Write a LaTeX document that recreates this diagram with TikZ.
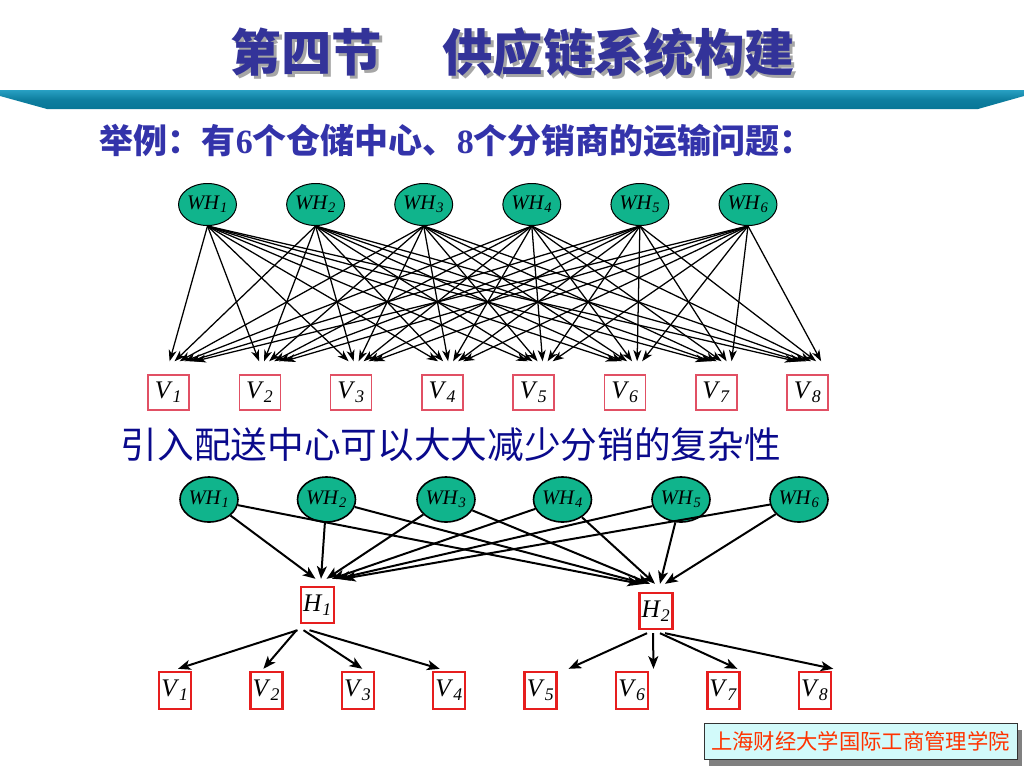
\documentclass[tikz,border=0pt]{standalone}
\usepackage{fontspec}
\setmainfont{Liberation Serif}
\newfontfamily\cjk{Noto Sans CJK SC}
\usetikzlibrary{arrows.meta,calc,shapes.geometric,shadows}

\definecolor{titleblue}{RGB}{51,51,153}
\definecolor{subblue}{RGB}{51,51,170}
\definecolor{headblue}{RGB}{10,10,140}
\definecolor{barlight}{RGB}{40,160,195}
\definecolor{bardark}{RGB}{8,118,150}
\definecolor{whgreen}{RGB}{16,180,140}
\definecolor{vpink}{RGB}{225,80,100}
\definecolor{vred}{RGB}{230,30,30}
\definecolor{footfill}{RGB}{210,250,250}
\definecolor{footred}{RGB}{255,51,0}

\newcommand{\lbl}[2]{\textit{#1}\textsubscript{\textit{#2}}}

\tikzset{every picture/.style={line width=0.75pt}}
\tikzset{
  whtop/.style={ellipse, draw=black, fill=whgreen, minimum width=39.75pt, minimum height=31.5pt, inner sep=0pt, font=\fontsize{15.5}{15.5}\selectfont},
  whbot/.style={ellipse, draw=black, line width=1.2pt, fill=whgreen, minimum width=43.5pt, minimum height=33.75pt, inner sep=0pt, font=\fontsize{15.5}{15.5}\selectfont},
  vtop/.style={draw=vpink, line width=1.1pt, minimum width=30.75pt, minimum height=26.25pt, inner sep=0pt, font=\fontsize{19}{19}\selectfont},
  vbot/.style={draw=vred, line width=1.8pt, minimum width=24pt, minimum height=27.75pt, inner sep=0pt, font=\fontsize{19}{19}\selectfont},
  hbox/.style={draw=vred, line width=1.8pt, minimum width=24.75pt, minimum height=27pt, inner sep=0pt, font=\fontsize{19}{19}\selectfont},
  toparr/.style={-{Stealth[length=8.5pt,width=6pt,inset=2.5pt]}, line width=0.95pt},
  botarr/.style={-{Stealth[length=9.5pt,width=7.5pt,inset=2.5pt]}, line width=1.5pt}
}

\begin{document}
\begin{tikzpicture}[x=0.75pt,y=0.75pt,yscale=-1,xscale=1]
    \useasboundingbox (0,0) rectangle (1024,768);
    \fill[white] (0,0) rectangle (1024,768);

    %Title
    \node[font=\cjk\bfseries\fontsize{37.8}{37.8}\selectfont, text=gray!70] (tshadow) at (516,55) {第四节\hspace{1.2em}供应链系统构建};
    \node[font=\cjk\bfseries\fontsize{37.8}{37.8}\selectfont, text=titleblue] (title) at (513,52) {第四节\hspace{1.2em}供应链系统构建};
    %Bar
    \shade[top color=barlight, bottom color=bardark, middle color=bardark!80!barlight] (0,90) -- (1024,90) -- (1024,96) -- (978,109) -- (47,109) -- (0,96) -- cycle;

    % Text Node
    \node[anchor=west, font=\cjk\bfseries\fontsize{25.5}{25.5}\selectfont, text=subblue] (sub) at (95,141) {举例：有\textrm{\bfseries 6}个仓储中心、\textrm{\bfseries 8}个分销商的运输问题：};

    %Top network
    \foreach \i in {1,...,6}
      \node[whtop] (wa\i) at ({207.5+108.1*(\i-1)},204.5) {\lbl{WH}{\i}};
    \foreach \j in {1,...,8}
      \node[vtop] (va\j) at ({168.5+91.3*(\j-1)},392.5) {\lbl{V}{\j}};
    \foreach \i in {1,...,6}
      \foreach \j in {1,...,8}
        \draw[toparr] (wa\i.south) -- ($(va\j.north)+({(\i-3.5)*5+1+(8-\j)*1.8},-13)$);

    % Text Node
    \node[anchor=west, font=\cjk\fontsize{27.5}{27.5}\selectfont, text=headblue] (head) at (116,445) {引入配送中心可以大大减少分销的复杂性};

    %Bottom network
    \foreach \i/\x in {1/209,2/326.5,3/446,4/562.5,5/681,6/799}
      \node[whbot] (wb\i) at (\x,499.5) {\lbl{WH}{\i}};
    \node[hbox] (h1) at (317.5,605) {\lbl{H}{1}};
    \node[hbox] (h2) at (656,611) {\lbl{H}{2}};
    \foreach \j in {1,...,8}
      \node[vbot] (vb\j) at ({175+91.4*(\j-1)},690.5) {\lbl{V}{\j}};
    \foreach \i in {1,...,6}{
      \draw[botarr] (wb\i) -- ($(h1.north)+({-2+(\i-1)*5.5},-7)$);
      \draw[botarr] (wb\i) -- ($(h2.north)+({-16+(\i-1)*5},-8)$);
    }
    \foreach \j/\sx/\dx in {1/-20/3, 2/-21/-3, 3/-14/4.5, 4/-8/-9.5}
      \draw[botarr] ($(h1.south)+(\sx,6)$) -- ($(vb\j.north)+(\dx,-2)$);
    \foreach \j/\sx/\dx in {5/-9/28, 6/-3/21.5, 7/4/14, 8/9/18.5}
      \draw[botarr] ($(h2.south)+(\sx,3)$) -- ($(vb\j.north)+(\dx,-2)$);

    %Footer
    \node[draw=black!80, fill=footfill, minimum width=234.75pt, minimum height=27pt, inner sep=0pt,
          drop shadow={shadow xshift=4pt, shadow yshift=-5pt, fill=gray, opacity=1},
          font=\cjk\fontsize{16}{16}\selectfont, text=footred] (foot) at (860.5,741) {上海财经大学国际工商管理学院};
\end{tikzpicture}
\end{document}
